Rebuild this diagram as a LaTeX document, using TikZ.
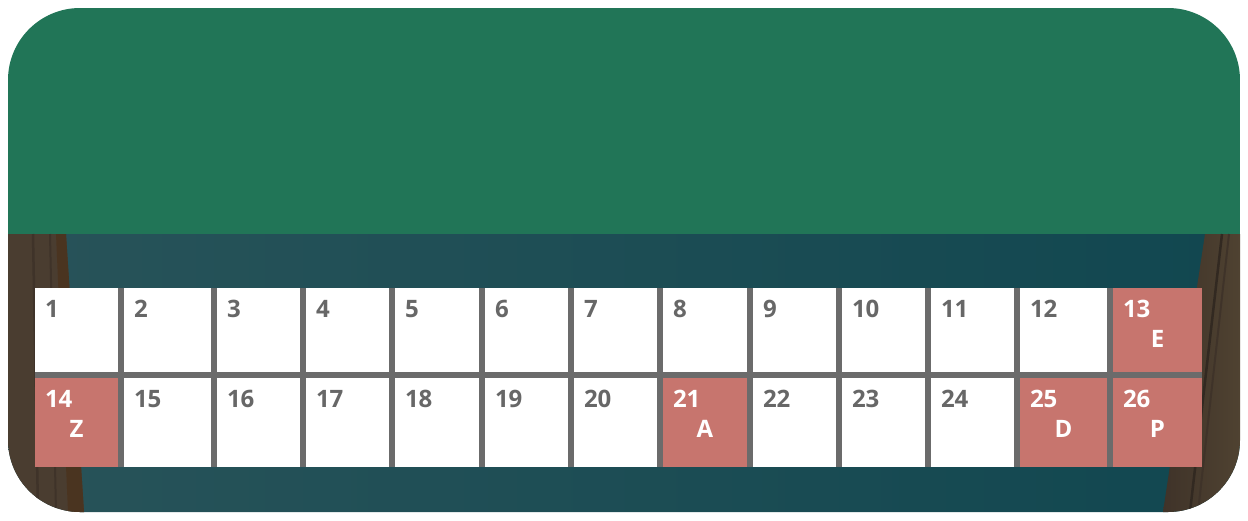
\documentclass[tikz,border=0pt]{standalone}
\usepackage{fontspec}
\setmainfont{Open Sans}
\definecolor{topgreen}{HTML}{217557}
\definecolor{tealL}{HTML}{285359}
\definecolor{tealR}{HTML}{114750}
\definecolor{gridgray}{HTML}{6B6B6B}
\definecolor{pinkcell}{HTML}{C7756E}
\definecolor{numgray}{HTML}{676767}
\definecolor{curtain}{HTML}{4A3D30}
\definecolor{curtainD}{HTML}{3F3329}
\definecolor{curtainR}{HTML}{4A3420}
\definecolor{curtainL2}{HTML}{4F4231}
\tikzset{
  cellbox/.style={rectangle, draw=none, inner sep=0pt, outer sep=0pt},
  numtxt/.style={inner sep=0pt, outer sep=0pt, font=\fontsize{24}{28}\selectfont\bfseries},
  lettxt/.style={inner sep=0pt, outer sep=0pt, text=white, font=\fontsize{24}{28}\selectfont\bfseries, anchor=north},
}
\begin{document}
\begin{tikzpicture}[x=1pt,y=-1pt]
\useasboundingbox (0,0) rectangle (1248,520);
\begin{scope}
  \clip[rounded corners=72pt] (8,8) rectangle (1240,512);
  \shade[left color=tealL, right color=tealR] (8,234) rectangle (1240,512);
  \fill[topgreen] (8,8) rectangle (1240,234);
  % left curtain
  \fill[curtain] (8,234) -- (66,234) -- (84,512) -- (8,512) -- cycle;
  \fill[curtainR] (56,234) -- (66,234) -- (84,512) -- (68,512) -- cycle;
  \draw[curtainD, line width=2.5pt] (33,234) -- (38,512);
  \draw[curtainD, line width=2pt] (50,234) -- (56,512);
  % right curtain
  \shade[left color=curtainD, right color=curtainL2] (1205,234) -- (1240,234) -- (1240,512) -- (1163,512) -- cycle;
  \draw[curtainD!80!black, line width=2.5pt] (1222,234) -- (1190,512);
  \draw[curtainD, line width=2pt] (1229,234) -- (1198,512);
\end{scope}
\fill[gridgray] (35,288) rectangle (1202,467);
\foreach \n/\l/\r/\t/\b/\f/\c in {
  1/35/118/288/372/white/numgray, 2/124/211/288/372/white/numgray,
  3/217/300/288/372/white/numgray, 4/306/389/288/372/white/numgray,
  5/395/479/288/372/white/numgray, 6/485/568/288/372/white/numgray,
  7/574/657/288/372/white/numgray, 8/663/747/288/372/white/numgray,
  9/753/836/288/372/white/numgray, 10/842/925/288/372/white/numgray,
  11/931/1014/288/372/white/numgray, 12/1020/1107/288/372/white/numgray,
  13/1113/1202/288/372/pinkcell/white,
  14/35/118/378/467/pinkcell/white, 15/124/211/378/467/white/numgray,
  16/217/300/378/467/white/numgray, 17/306/389/378/467/white/numgray,
  18/395/479/378/467/white/numgray, 19/485/568/378/467/white/numgray,
  20/574/657/378/467/white/numgray, 21/663/747/378/467/pinkcell/white,
  22/753/836/378/467/white/numgray, 23/842/925/378/467/white/numgray,
  24/931/1014/378/467/white/numgray, 25/1020/1107/378/467/pinkcell/white,
  26/1113/1202/378/467/pinkcell/white}{
  \node[cellbox, fill=\f, minimum width={\r-\l}, minimum height={\b-\t}, anchor=north west] (c\n) at (\l,\t) {};
  \node[numtxt, text=\c, anchor=north west] (n\n) at (\l+10,\t+12.5) {\n};
}
\node[lettxt] (l13) at ([yshift=-42pt]c13.north) {E};
\node[lettxt] (l14) at ([yshift=-42pt]c14.north) {Z};
\node[lettxt] (l21) at ([yshift=-42pt]c21.north) {A};
\node[lettxt] (l25) at ([yshift=-42pt]c25.north) {D};
\node[lettxt] (l26) at ([yshift=-42pt]c26.north) {P};
\end{tikzpicture}
\end{document}
